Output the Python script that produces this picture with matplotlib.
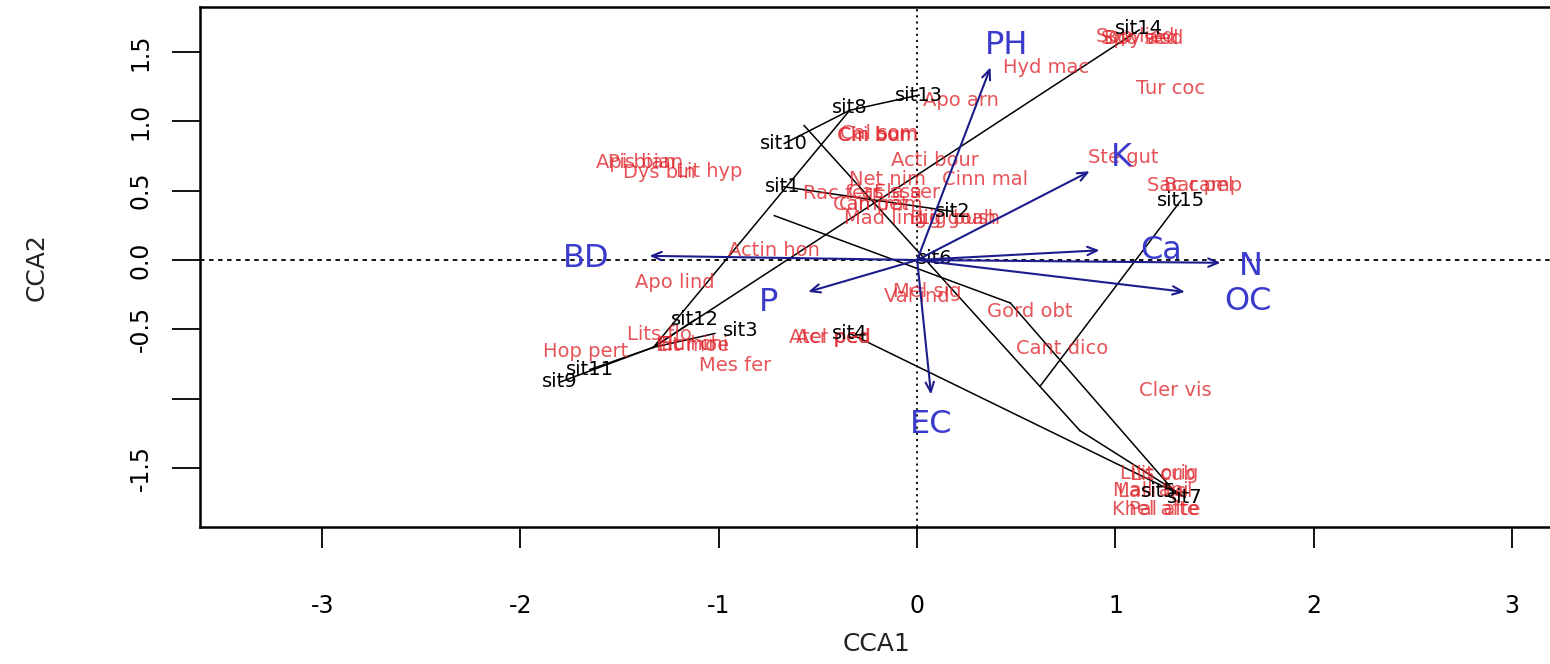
import matplotlib
matplotlib.use("Agg")
import matplotlib.pyplot as plt
import numpy as np

# ---------------- data ----------------
site_names = ["sit1", "sit2", "sit3", "sit4", "sit5", "sit6", "sit7", "sit8",
              "sit9", "sit10", "sit11", "sit12", "sit13", "sit14", "sit15"]
site_x = [-0.68, 0.18, -0.89, -0.34, 1.22, 0.09, 1.35, -0.34,
          -1.80, -0.67, -1.65, -1.12, 0.01, 1.12, 1.33]
site_y = [0.53, 0.35, -0.51, -0.53, -1.67, 0.01, -1.71, 1.10,
          -0.88, 0.84, -0.79, -0.43, 1.19, 1.67, 0.43]

species_names = ["Hyd mac", "Tur coc", "Apo arn", "Cin bur", "Chi bom", "Cal som",
                 "Acti bour", "Net nim", "Cinn mal", "Ste gut", "Sac camp", "Bar pel",
                 "Api bian", "Pis bian", "Dys bin", "Lit hyp",
                 "Rac ferr", "Cas ssa", "Ela ser", "Cin pet", "Cam ram",
                 "Mad ling", "Big goah", "Lig bush",
                 "Actin hon", "Apo lind", "Mel sig", "Val ind", "Gord obt", "Cant dico",
                 "Cler vis", "Atel ped", "Acr ped", "Lits flo", "Hop pert",
                 "Fic hir", "Eur chi", "Lit moe", "Mes fer",
                 "Lits orig", "Lit cub", "Mall api", "Lasi bel", "Khel afte", "Pal alte",
                 "Spo sed", "Boy aed", "Sop lied"]
species_x = [0.65, 1.28, 0.22, -0.22, -0.20, -0.19,
             0.09, -0.15, 0.34, 1.04, 1.40, 1.42,
             -1.42, -1.37, -1.30, -1.05,
             -0.38, -0.16, -0.05, -0.22, -0.20,
             -0.16, 0.18, 0.21,
             -0.72, -1.22, 0.05, 0.00, 0.57, 0.73,
             1.30, -0.44, -0.42, -1.30, -1.67,
             -1.16, -1.12, -1.13, -0.92,
             1.22, 1.24, 1.18, 1.20, 1.20, 1.25,
             1.12, 1.14, 1.10]
species_y = [1.39, 1.24, 1.15, 0.90, 0.90, 0.91,
             0.72, 0.58, 0.58, 0.74, 0.54, 0.54,
             0.70, 0.70, 0.63, 0.64,
             0.48, 0.49, 0.49, 0.40, 0.40,
             0.30, 0.30, 0.30,
             0.07, -0.16, -0.23, -0.26, -0.37, -0.64,
             -0.94, -0.56, -0.56, -0.54, -0.66,
             -0.61, -0.61, -0.62, -0.76,
             -1.54, -1.55, -1.66, -1.67, -1.80, -1.80,
             1.60, 1.60, 1.61]

env_names = ["PH", "K", "Ca", "N", "OC", "EC", "P", "BD"]
env_x = [0.37, 0.87, 0.92, 1.53, 1.35, 0.07, -0.55, -1.35]
env_y = [1.39, 0.64, 0.07, -0.02, -0.23, -0.97, -0.23, 0.03]
env_lab_x = [0.45, 1.03, 1.23, 1.68, 1.67, 0.07, -0.75, -1.67]
env_lab_y = [1.55, 0.74, 0.07, -0.05, -0.30, -1.19, -0.31, 0.01]

# connecting segments between sites / group nodes
seg_x0 = [-1.33, -1.33, -1.33, -1.33, -1.33, -1.33, -0.67, -0.34, -0.68,
          -0.57, 0.82, -0.72, 0.47, -0.34, 0.62]
seg_y0 = [-0.63, -0.63, -0.63, -0.63, -0.63, -0.63, 0.84, 1.08, 0.53,
          0.97, -1.23, 0.32, -0.31, -0.53, -0.91]
seg_x1 = [-1.80, -1.65, -1.12, -1.02, -0.34, 1.12, -0.34, 0.01, 0.18,
          0.82, 1.35, 0.47, 1.31, 1.35, 1.33]
seg_y1 = [-0.88, -0.79, -0.43, -0.53, 1.08, 1.66, 1.08, 1.19, 0.35,
          -1.23, -1.71, -0.31, -1.69, -1.71, 0.43]

xticks = [-3, -2, -1, 0, 1, 2, 3]
yticks = [-1.5, -1.0, -0.5, 0.0, 0.5, 1.0, 1.5]
ytick_labels = ["-1.5", "", "-0.5", "0.0", "0.5", "1.0", "1.5"]

# ---------------- figure ----------------
W, H = 1550, 664
fig = plt.figure(figsize=(W / 100, H / 100), dpi=100)
ax = fig.add_axes([200 / W, 1 - 527 / H, (1553 - 200) / W, (527 - 7) / H])
ax.set_xlim(-3.616, 3.206)
ax.set_ylim(-1.926, 1.825)

ax.axhline(0, color="black", lw=1.3, ls=(0, (2.5, 2.5)), zorder=1)
ax.axvline(0, color="black", lw=1.3, ls=(0, (1.2, 2.2)), zorder=1)

for x0, y0, x1, y1 in zip(seg_x0, seg_y0, seg_x1, seg_y1):
    ax.plot([x0, x1], [y0, y1], color="black", lw=1.1, zorder=2)

arrow_col = "#1c1c8c"
for hx, hy in zip(env_x, env_y):
    ax.annotate("", xy=(hx, hy), xytext=(0, 0),
                arrowprops=dict(arrowstyle="->,head_length=0.7,head_width=0.3",
                                color=arrow_col, lw=1.5, shrinkA=0, shrinkB=0),
                zorder=4)

for name, x, y in zip(species_names, species_x, species_y):
    ax.text(x, y, name, color="#e0242a", alpha=0.78, fontsize=14,
            ha="center", va="center", zorder=3)

for name, x, y in zip(site_names, site_x, site_y):
    ax.text(x, y, name, color="black", fontsize=14, ha="center", va="center",
            zorder=3)

for name, x, y in zip(env_names, env_lab_x, env_lab_y):
    ax.text(x, y, name, color="#3a3acc", fontsize=23, ha="center", va="center",
            zorder=5)

ax.set_xticks(xticks)
ax.set_xticklabels([str(t) for t in xticks], fontsize=17)
ax.set_yticks(yticks)
ax.set_yticklabels(ytick_labels, fontsize=17, rotation=90, va="center")
ax.tick_params(axis="x", length=15, width=1.3, pad=33, colors="black")
ax.tick_params(axis="y", length=20, width=1.3, pad=14, colors="black")
for s in ax.spines.values():
    s.set_linewidth(1.8)

ax.set_xlabel("CCA1", fontsize=18, labelpad=10, color="#222222")
ax.set_ylabel("CCA2", fontsize=18, labelpad=58, color="#222222")

fig.savefig("out.png", dpi=100)
